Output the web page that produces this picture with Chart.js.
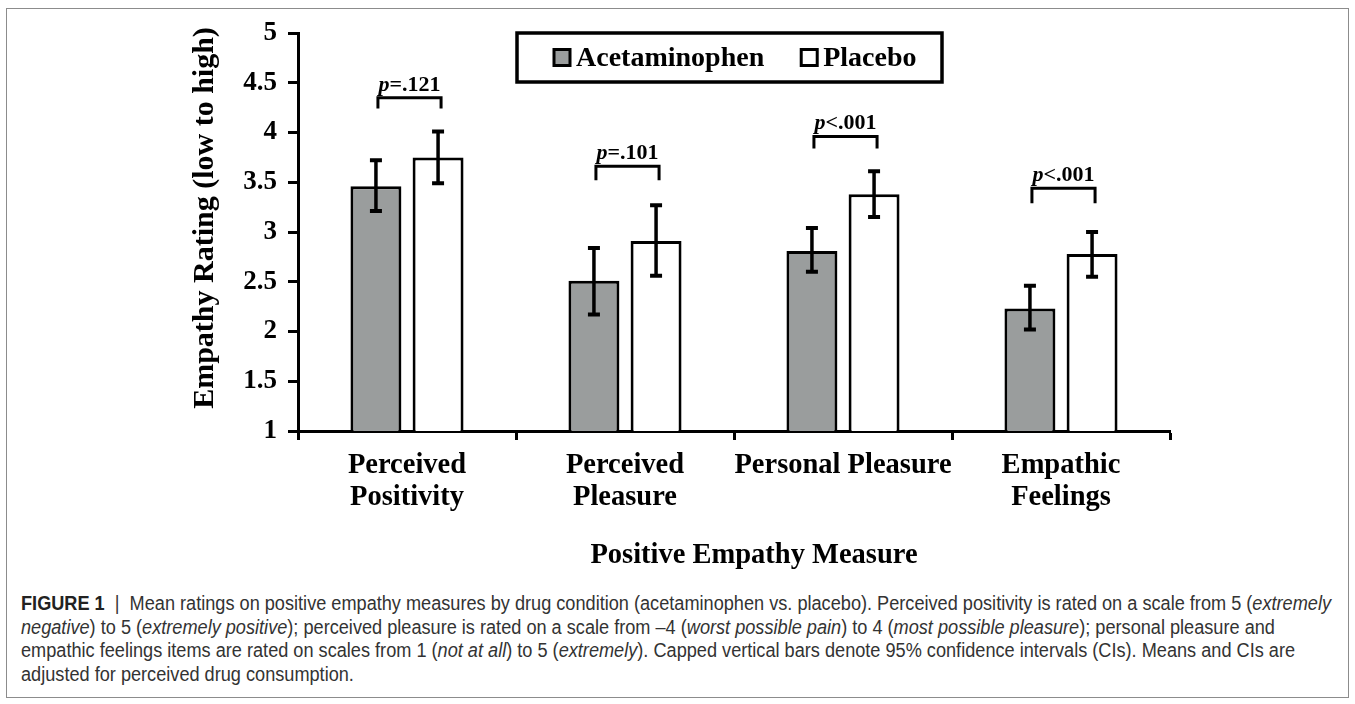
<!DOCTYPE html>
<html>
<head>
<meta charset="utf-8">
<script src="https://cdn.jsdelivr.net/npm/chart.js@4"></script>
<style>
html, body { margin: 0; padding: 0; background: #fff; }
#frame { position: absolute; left: 6px; top: 8px; width: 1343px; height: 690px; border: 1px solid #8c8c8c; box-sizing: border-box; }
#wrap { position: absolute; left: 0; top: 0; width: 1355px; height: 580px; }
#caption { position: absolute; left: 21px; top: 592px; font-family: "Liberation Sans", Arial, sans-serif; font-size: 19.5px; line-height: 23.5px; color: #333; white-space: nowrap; transform-origin: 0 0; }
#caption div { display: inline-block; }
#caption b { color: #222; }
</style>
</head>
<body>
<div id="frame"></div>
<div id="wrap"><canvas id="chart" width="1355" height="580"></canvas></div>
<div id="caption">
<div id="line1"><b>FIGURE 1</b> &nbsp;|&nbsp; Mean ratings on positive empathy measures by drug condition (acetaminophen vs. placebo). Perceived positivity is rated on a scale from 5 (<i>extremely</i></div><br>
<div><i>negative</i>) to 5 (<i>extremely positive</i>); perceived pleasure is rated on a scale from –4 (<i>worst possible pain</i>) to 4 (<i>most possible pleasure</i>); personal pleasure and</div><br>
<div>empathic feelings items are rated on scales from 1 (<i>not at all</i>) to 5 (<i>extremely</i>). Capped vertical bars denote 95% confidence intervals (CIs). Means and CIs are</div><br>
<div>adjusted for perceived drug consumption.</div>
</div>
<script>
// values
const categories = [['Perceived', 'Positivity'], ['Perceived', 'Pleasure'], 'Personal Pleasure', ['Empathic', 'Feelings']];
const seriesNames = ['Acetaminophen', 'Placebo'];
const acetaminophenMeans = [3.46, 2.51, 2.81, 2.23];
const acetaminophenLow = [3.21, 2.17, 2.60, 2.02];
const acetaminophenHigh = [3.72, 2.84, 3.04, 2.46];
const placeboMeans = [3.75, 2.91, 3.38, 2.78];
const placeboLow = [3.49, 2.56, 3.15, 2.55];
const placeboHigh = [4.01, 3.27, 3.61, 3.00];
const pValues = ['=.121', '=.101', '<.001', '<.001'];
const bracketTop = [4.35, 3.66, 3.96, 3.44];
const bracketLeg = [4.24, 3.52, 3.84, 3.29];
const yTickLabels = ['1', '1.5', '2', '2.5', '3', '3.5', '4', '4.5', '5'];
const xTitle = 'Positive Empathy Measure';
const yTitle = 'Empathy Rating (low to high)';

const SERIF = '"Liberation Serif", "Times New Roman", serif';
const lows = [acetaminophenLow, placeboLow];
const highs = [acetaminophenHigh, placeboHigh];

// squeeze the caption to the width of the original narrow face
const cap = document.getElementById('caption');
const w1 = document.getElementById('line1').getBoundingClientRect().width;
cap.style.transform = 'scaleX(' + (1310 / w1) + ')';

const extrasPlugin = {
    id: 'extras',
    afterDatasetsDraw(chart) {
        const ctx = chart.ctx;
        const y = chart.scales.y;
        ctx.save();
        ctx.strokeStyle = '#000';
        ctx.lineCap = 'butt';

        // error bars
        chart.data.datasets.forEach((ds, di) => {
            const meta = chart.getDatasetMeta(di);
            meta.data.forEach((bar, i) => {
                const top = y.getPixelForValue(highs[di][i]);
                const bot = y.getPixelForValue(lows[di][i]);
                ctx.lineWidth = 3.5;
                ctx.beginPath();
                ctx.moveTo(bar.x, top);
                ctx.lineTo(bar.x, bot);
                ctx.stroke();
                ctx.lineWidth = 4;
                ctx.beginPath();
                ctx.moveTo(bar.x - 6, top);
                ctx.lineTo(bar.x + 6, top);
                ctx.moveTo(bar.x - 6, bot);
                ctx.lineTo(bar.x + 6, bot);
                ctx.stroke();
            });
        });

        // significance brackets
        const m0 = chart.getDatasetMeta(0).data;
        const m1 = chart.getDatasetMeta(1).data;
        pValues.forEach((txt, i) => {
            const x0 = m0[i].x + 2;
            const x1 = m1[i].x + 3;
            const yt = y.getPixelForValue(bracketTop[i]);
            const yl = y.getPixelForValue(bracketLeg[i]);
            ctx.lineWidth = 3;
            ctx.beginPath();
            ctx.moveTo(x0, yl);
            ctx.lineTo(x0, yt);
            ctx.lineTo(x1, yt);
            ctx.lineTo(x1, yl);
            ctx.stroke();

            const fP = 'italic bold 22px ' + SERIF;
            const fR = 'bold 22px ' + SERIF;
            ctx.font = fP;
            const wP = ctx.measureText('p').width;
            ctx.font = fR;
            const wR = ctx.measureText(txt).width;
            const sx = (x0 + x1) / 2 - (wP + wR) / 2;
            ctx.fillStyle = '#000';
            ctx.textBaseline = 'alphabetic';
            ctx.textAlign = 'left';
            ctx.font = fP;
            ctx.fillText('p', sx, yt - 7);
            ctx.font = fR;
            ctx.fillText(txt, sx + wP, yt - 7);
        });

        // legend box
        const bx = 517, by = 33, bw = 425, bh = 49;
        ctx.lineWidth = 3.5;
        ctx.strokeRect(bx, by, bw, bh);
        ctx.font = 'bold 28px ' + SERIF;
        ctx.textBaseline = 'middle';
        let lx = bx + 37;
        const ly = by + bh / 2;
        chart.data.datasets.forEach(ds => {
            ctx.fillStyle = ds.backgroundColor;
            ctx.fillRect(lx, ly - 8, 16, 16);
            ctx.lineWidth = 3;
            ctx.strokeRect(lx, ly - 8, 16, 16);
            ctx.fillStyle = '#000';
            ctx.fillText(ds.label, lx + 22, ly + 1);
            lx += 22 + ctx.measureText(ds.label).width + 37;
        });

        // axis titles
        ctx.fillStyle = '#000';
        ctx.textAlign = 'center';
        ctx.textBaseline = 'middle';
        ctx.font = 'bold 28.5px ' + SERIF;
        ctx.fillText(xTitle, 754, 556);
        ctx.translate(205, 218);
        ctx.rotate(-Math.PI / 2);
        ctx.font = 'bold 30px ' + SERIF;
        ctx.fillText(yTitle, 0, 0);
        ctx.restore();
    }
};

new Chart(document.getElementById('chart'), {
    type: 'bar',
    data: {
        labels: categories,
        datasets: [
            {
                label: seriesNames[0],
                data: acetaminophenMeans,
                backgroundColor: '#9a9d9d',
                borderColor: '#000',
                borderWidth: 3
            },
            {
                label: seriesNames[1],
                data: placeboMeans,
                backgroundColor: '#ffffff',
                borderColor: '#000',
                borderWidth: 3
            }
        ]
    },
    options: {
        responsive: false,
        animation: false,
        categoryPercentage: 0.57,
        barPercentage: 0.82,
        layout: { padding: { left: 190, right: 185, top: 33, bottom: 9 } },
        plugins: {
            legend: { display: false },
            tooltip: { enabled: false }
        },
        scales: {
            x: {
                afterFit(scale) { scale.height = 140; },
                grid: { drawOnChartArea: false, offset: true, tickLength: 9, tickWidth: 3, tickColor: '#000' },
                border: { display: true, color: '#000', width: 3 },
                ticks: {
                    color: '#000',
                    padding: 10,
                    maxRotation: 0,
                    autoSkip: false,
                    font: { family: SERIF, size: 28.5, weight: 'bold', lineHeight: 1.12 }
                }
            },
            y: {
                min: 1,
                max: 5,
                afterFit(scale) { scale.width = 108; },
                grid: { drawOnChartArea: false, tickLength: 10, tickWidth: 3, tickColor: '#000' },
                border: { display: true, color: '#000', width: 3 },
                ticks: {
                    stepSize: 0.5,
                    color: '#000',
                    padding: 11,
                    font: { family: SERIF, size: 27, weight: 'bold' },
                    callback: (v, i) => yTickLabels[i]
                }
            }
        }
    },
    plugins: [extrasPlugin]
});
</script>
</body>
</html>
